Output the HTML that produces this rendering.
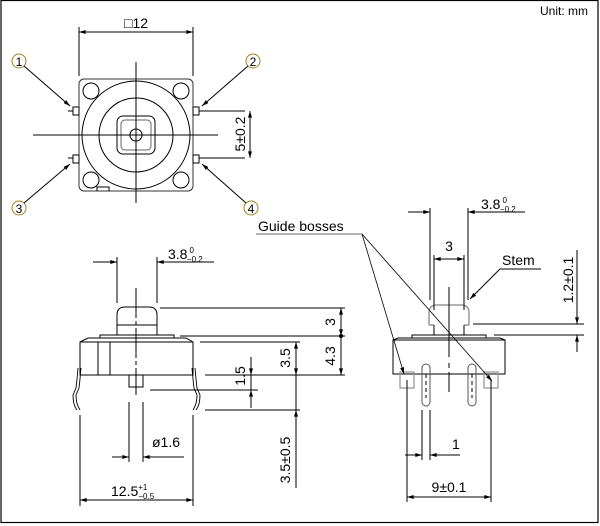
<!DOCTYPE html>
<html><head><style>body{margin:0;background:#fff}svg{display:block}text{font-family:"Liberation Sans",sans-serif;fill:#000}</style></head><body>
<svg width="600" height="526" viewBox="0 0 600 526" xmlns="http://www.w3.org/2000/svg">
<defs>
<marker id="a" viewBox="0 0 10 6" refX="10" refY="3" markerWidth="10" markerHeight="4" orient="auto-start-reverse" markerUnits="userSpaceOnUse"><path d="M0,0L10,3L0,6z" fill="#000"/></marker>
</defs>
<rect x="1" y="0.5" width="597" height="522" fill="none" stroke="#000" stroke-width="1.2"/>
<text x="540" y="15" font-size="12">Unit: mm</text>
<g stroke="#000" stroke-width="1" fill="none">
<rect x="79" y="79" width="114" height="112" rx="5" stroke="#333"/>
<line x1="84" y1="79" x2="188" y2="79" stroke="#999" stroke-width="2"/>
<circle cx="136" cy="135" r="54"/><circle cx="136" cy="135" r="37"/>
<rect x="117" y="116" width="38" height="38" rx="6"/><rect x="121" y="120" width="30" height="30" rx="4" stroke="#666"/>
<circle cx="136" cy="135" r="6"/>
<circle cx="91" cy="91" r="8"/><circle cx="181" cy="91" r="8"/><circle cx="91" cy="180" r="8"/><circle cx="181" cy="180" r="8"/>
<path d="M97 191V187H109V191"/>
<line x1="136" y1="62" x2="136" y2="203"/><line x1="33" y1="135" x2="218" y2="135"/>
<rect x="73" y="107" width="6" height="8"/><rect x="193" y="107" width="6" height="8"/>
<rect x="73" y="155" width="6" height="8"/><rect x="193" y="155" width="6" height="8"/>
<line x1="68" y1="111" x2="73" y2="111"/><line x1="68" y1="158" x2="73" y2="158"/>
<line x1="199" y1="111" x2="245" y2="111"/><line x1="199" y1="158" x2="245" y2="158"/>
<line x1="250" y1="111" x2="250" y2="158" marker-start="url(#a)" marker-end="url(#a)"/>
<line x1="79" y1="27" x2="79" y2="76"/><line x1="193" y1="27" x2="193" y2="76"/>
<line x1="79" y1="32" x2="193" y2="32" marker-start="url(#a)" marker-end="url(#a)"/>
<circle cx="19" cy="61" r="7" stroke="#a08020"/><circle cx="253" cy="61" r="7" stroke="#a08020"/>
<circle cx="19" cy="208" r="7" stroke="#a08020"/><circle cx="251" cy="208" r="7" stroke="#a08020"/>
<line x1="24" y1="66" x2="70" y2="106" marker-end="url(#a)"/>
<line x1="248" y1="66" x2="202" y2="106" marker-end="url(#a)"/>
<line x1="24" y1="203" x2="70" y2="164" marker-end="url(#a)"/>
<line x1="246" y1="203" x2="202" y2="164" marker-end="url(#a)"/>
<path d="M117 335V315Q117 307 125 307H149Q157 307 157 315V335"/>
<line x1="117" y1="325" x2="157" y2="325"/>
<rect x="100" y="335" width="74" height="3"/>
<path d="M80 342L88 338H186L193 342"/>
<rect x="80" y="342" width="113" height="33"/>
<line x1="98" y1="342" x2="98" y2="375"/><line x1="110" y1="342" x2="110" y2="375"/>
<rect x="129" y="375" width="14" height="12"/>
<path d="M78 368Q77 380 76 388L73 395Q73 405 77 410M81 368Q80 380 79 388L76 395Q76 404 80 410" stroke-width="0.9"/>
<path d="M195 368Q196 380 197 388L200 395Q200 405 196 410M192 368Q193 380 194 388L197 395Q197 404 193 410" stroke-width="0.9"/>
<line x1="136" y1="288" x2="136" y2="395" stroke-dasharray="30 3 4 3"/>
<line x1="117" y1="257" x2="117" y2="303"/><line x1="157" y1="257" x2="157" y2="303"/>
<line x1="93" y1="262" x2="117" y2="262" marker-end="url(#a)"/><line x1="157" y1="262" x2="214" y2="262"/>
<line x1="180" y1="262" x2="157" y2="262" marker-end="url(#a)"/>
<line x1="160" y1="308" x2="345" y2="308"/><line x1="180" y1="336" x2="345" y2="336"/>
<line x1="200" y1="342" x2="300" y2="342"/><line x1="205" y1="375" x2="345" y2="375"/>
<line x1="150" y1="390" x2="258" y2="390"/><line x1="205" y1="410" x2="300" y2="410"/>
<line x1="341" y1="308" x2="341" y2="336" marker-start="url(#a)" marker-end="url(#a)"/>
<line x1="341" y1="336" x2="341" y2="375" marker-end="url(#a)"/>
<circle cx="341" cy="336" r="1.5" fill="#000"/>
<line x1="296" y1="342" x2="296" y2="375" marker-start="url(#a)" marker-end="url(#a)"/>
<line x1="296" y1="375" x2="296" y2="488"/>
<line x1="296" y1="430" x2="296" y2="410" marker-end="url(#a)"/>
<line x1="251" y1="357" x2="251" y2="375" marker-end="url(#a)"/>
<line x1="251" y1="408" x2="251" y2="390" marker-end="url(#a)"/>
<line x1="251" y1="375" x2="251" y2="390"/>
<line x1="129" y1="402" x2="129" y2="462"/><line x1="143" y1="402" x2="143" y2="462"/>
<line x1="112" y1="457" x2="129" y2="457" marker-end="url(#a)"/>
<line x1="184" y1="457" x2="143" y2="457"/><line x1="160" y1="457" x2="143" y2="457" marker-end="url(#a)"/>
<line x1="80" y1="415" x2="80" y2="506"/><line x1="193" y1="415" x2="193" y2="506"/>
<line x1="80" y1="500" x2="193" y2="500" marker-start="url(#a)" marker-end="url(#a)"/>
<path d="M429 325V313Q429 305 437 305H461Q469 305 469 313V325H464M429 325H434" stroke="#999" stroke-width="1.5"/>
<line x1="434" y1="325" x2="434" y2="335"/><line x1="464" y1="325" x2="464" y2="335"/>
<rect x="412" y="335" width="74" height="3"/>
<path d="M393 340L398 338H500L505 340"/>
<rect x="393" y="340" width="112" height="34"/>
<rect x="400" y="372" width="14" height="16" stroke="#999" stroke-width="1.3"/>
<rect x="484" y="372" width="14" height="16" stroke="#999" stroke-width="1.3"/>
<rect x="422" y="364" width="8" height="42" rx="4" stroke="#555"/>
<rect x="468" y="364" width="8" height="42" rx="4" stroke="#555"/>
<line x1="426" y1="374" x2="426" y2="398" stroke-dasharray="4 3"/><line x1="472" y1="374" x2="472" y2="398" stroke-dasharray="4 3"/>
<line x1="449" y1="287" x2="449" y2="392" stroke-dasharray="70 6 5 4"/>
<line x1="430" y1="208" x2="430" y2="300"/><line x1="468" y1="208" x2="468" y2="300"/>
<line x1="408" y1="212" x2="430" y2="212" marker-end="url(#a)"/>
<line x1="525" y1="212" x2="468" y2="212"/><line x1="490" y1="212" x2="468" y2="212" marker-end="url(#a)"/>
<line x1="434" y1="255" x2="434" y2="310"/><line x1="464" y1="255" x2="464" y2="310"/>
<line x1="434" y1="259" x2="464" y2="259" marker-start="url(#a)" marker-end="url(#a)"/>
<line x1="541" y1="269" x2="500" y2="269"/><line x1="500" y1="269" x2="470" y2="299" marker-end="url(#a)"/>
<line x1="473" y1="324" x2="584" y2="324"/><line x1="494" y1="335" x2="584" y2="335"/>
<line x1="577" y1="250" x2="577" y2="324"/><line x1="577" y1="310" x2="577" y2="324" marker-end="url(#a)"/>
<line x1="577" y1="352" x2="577" y2="335" marker-end="url(#a)"/>
<line x1="256" y1="234" x2="362" y2="234" stroke="#666"/>
<line x1="362" y1="234" x2="404" y2="374" stroke-width="0.8" marker-end="url(#a)"/>
<line x1="362" y1="234" x2="492" y2="381" stroke-width="0.8" marker-end="url(#a)"/>
<line x1="422" y1="410" x2="422" y2="460"/><line x1="430" y1="410" x2="430" y2="460"/>
<line x1="405" y1="455" x2="422" y2="455" marker-end="url(#a)"/>
<line x1="460" y1="455" x2="430" y2="455"/><line x1="446" y1="455" x2="430" y2="455" marker-end="url(#a)"/>
<line x1="407" y1="380" x2="407" y2="502"/><line x1="491" y1="380" x2="491" y2="502"/>
<line x1="407" y1="497" x2="491" y2="497" marker-start="url(#a)" marker-end="url(#a)"/>
</g>
<g font-size="14">
<text x="136" y="28" text-anchor="middle">□12</text>
<text x="19" y="66" text-anchor="middle" font-size="12">1</text>
<text x="253" y="66" text-anchor="middle" font-size="12">2</text>
<text x="19" y="213" text-anchor="middle" font-size="12">3</text>
<text x="251" y="213" text-anchor="middle" font-size="12">4</text>
<text transform="translate(245,134) rotate(-90)" text-anchor="middle">5±0.2</text>
<text x="168" y="259">3.8<tspan font-size="8" dx="2" dy="-6">0</tspan><tspan font-size="8" dx="-7" dy="9">−0.2</tspan></text>
<text transform="translate(335,322) rotate(-90)" text-anchor="middle">3</text>
<text transform="translate(335,356) rotate(-90)" text-anchor="middle">4.3</text>
<text transform="translate(290,358) rotate(-90)" text-anchor="middle">3.5</text>
<text transform="translate(245,376) rotate(-90)" text-anchor="middle">1.5</text>
<text transform="translate(290,460) rotate(-90)" text-anchor="middle">3.5±0.5</text>
<text x="152" y="447">ø1.6</text>
<text x="111" y="496">12.5<tspan font-size="8" dy="-6">+1</tspan><tspan font-size="8" dx="-9" dy="9">−0.5</tspan></text>
<text x="258" y="231">Guide bosses</text>
<text x="481" y="209">3.8<tspan font-size="8" dx="2" dy="-6">0</tspan><tspan font-size="8" dx="-7" dy="9">−0.2</tspan></text>
<text x="449" y="251" text-anchor="middle">3</text>
<text x="502" y="265">Stem</text>
<text transform="translate(573,280) rotate(-90)" text-anchor="middle">1.2±0.1</text>
<text x="452" y="449">1</text>
<text x="449" y="492" text-anchor="middle">9±0.1</text>
</g>
</svg>
</body></html>
